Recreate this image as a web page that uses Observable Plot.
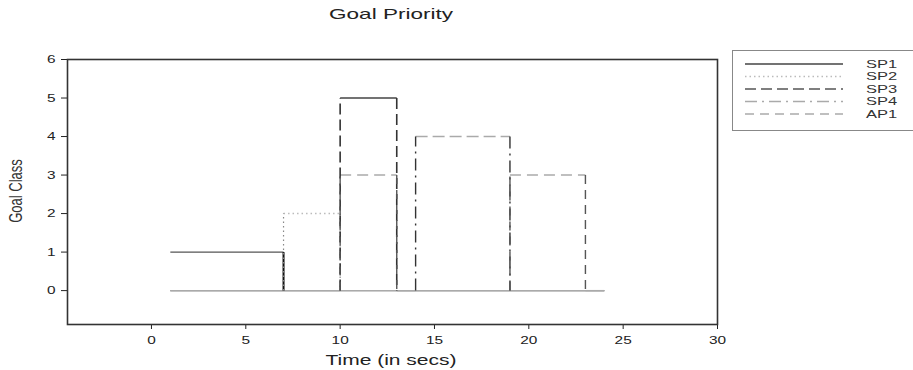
<!DOCTYPE html>
<html>
<head>
<meta charset="utf-8">
<script src="https://cdn.jsdelivr.net/npm/d3@7"></script>
<script src="https://cdn.jsdelivr.net/npm/@observablehq/plot@0.6"></script>
<style>
  body { margin: 0; background: #fff; font-family: "Liberation Sans", Arial, sans-serif; }
  #wrap { position: relative; width: 913px; height: 370px; overflow: hidden; }
  #title { position: absolute; top: 5px; left: 291px; width: 200px; text-align: center; font-size: 15px; line-height: 17px; color: #222; transform: scaleX(1.5); }
  #xlab { position: absolute; top: 352px; left: 291px; width: 200px; text-align: center; font-size: 14px; line-height: 16px; color: #222; transform: scaleX(1.5); }
  #ylab { position: absolute; left: 16px; top: 191px; transform: translate(-50%, -50%) rotate(-90deg) scaleY(1.4); font-size: 13px; line-height: 14px; color: #333; white-space: nowrap; }
  #legend { position: absolute; left: 732px; top: 50px; }
</style>
</head>
<body>
<div id="wrap">
  <div id="chart"></div>
  <div id="title">Goal Priority</div>
  <div id="xlab">Time (in secs)</div>
  <div id="ylab">Goal Class</div>
  <div id="legend"></div>
</div>
<script>
// Series names
const seriesNames = ["SP1", "SP2", "SP3", "SP4", "AP1"];
// Step-after breakpoints (time in secs) and goal class values for each series
const sp1Times = [1, 7, 24];
const sp1Values = [1, 0, 0];
const sp2Times = [1, 7, 10, 24];
const sp2Values = [0, 2, 0, 0];
const sp3Times = [1, 10, 13, 24];
const sp3Values = [0, 5, 0, 0];
const sp4Times = [1, 14, 19, 24];
const sp4Values = [0, 4, 0, 0];
const ap1Times = [1, 10, 13, 19, 23, 24];
const ap1Values = [0, 3, 0, 3, 0, 0];
// Tick labels
const xTicks = [0, 5, 10, 15, 20, 25, 30];
const yTicks = [0, 1, 2, 3, 4, 5, 6];

// Styles
const styles = {
  SP1: {h: "#555", v: "#111", dash: null, hDash: null, vWidth: 2, legend: "#444"},
  SP2: {h: "#bbb", v: "#888", dash: "1.5,3", hDash: "1.5,3", vWidth: 1.2, legend: "#bbb"},
  SP3: {h: "#444", v: "#333", dash: "11,5", hDash: null, vWidth: 1.6, legend: "#555"},
  SP4: {h: "#aaa", v: "#333", dash: "12,5,2,5", hDash: "12,5", vWidth: 1.4, legend: "#aaa"},
  AP1: {h: "#aaa", v: "#555", dash: "9,6", hDash: "11,6", vWidth: 1.4, legend: "#aaa"}
};

const seriesData = {
  SP1: [sp1Times, sp1Values],
  SP2: [sp2Times, sp2Values],
  SP3: [sp3Times, sp3Values],
  SP4: [sp4Times, sp4Values],
  AP1: [ap1Times, ap1Values]
};

// Build segments from step data
const baseline = [];
const marks = [];
for (const name of seriesNames) {
  const [t, v] = seriesData[name];
  const hs = [], vs = [];
  for (let i = 0; i < t.length - 1; i++) {
    const seg = {x1: t[i], y1: v[i], x2: t[i + 1], y2: v[i]};
    if (v[i] === 0) baseline.push(seg); else hs.push(seg);
    if (v[i + 1] !== v[i]) vs.push({x1: t[i + 1], y1: v[i], x2: t[i + 1], y2: v[i + 1]});
  }
  const s = styles[name];
  marks.push({name, hs, vs, s});
}

const plotMarks = [
  Plot.frame({stroke: "#333", strokeWidth: 1.6}),
  Plot.link(baseline, {x1: "x1", y1: "y1", x2: "x2", y2: "y2", stroke: "#aaa", strokeWidth: 1.3})
];
for (const m of marks) {
  plotMarks.push(Plot.link(m.hs, {x1: "x1", y1: "y1", x2: "x2", y2: "y2", stroke: m.s.h, strokeWidth: 1.4, strokeDasharray: m.s.hDash}));
}
for (const m of marks) {
  plotMarks.push(Plot.link(m.vs, {x1: "x1", y1: "y1", x2: "x2", y2: "y2", stroke: m.s.v, strokeWidth: m.s.vWidth, strokeDasharray: m.s.dash}));
}

const chart = Plot.plot({
  width: 913,
  height: 370,
  marginLeft: 67,
  marginRight: 196,
  marginTop: 59,
  marginBottom: 46,
  style: {fontFamily: "Liberation Sans, Arial, sans-serif", fontSize: "11px", color: "#222", background: "#fff"},
  x: {domain: [-4.45, 30], ticks: xTicks, tickFormat: d3.format("d"), tickSize: 5, tickPadding: 7, label: null},
  y: {domain: [-0.88, 6], ticks: yTicks, tickFormat: d3.format("d"), tickSize: 6, tickPadding: 6, label: null},
  marks: plotMarks
});
// Widen tick label glyphs horizontally, as in the reference
d3.select(chart).selectAll("text").each(function() {
  const t = this.getAttribute("transform") || "";
  this.setAttribute("transform", (t + " scale(1.4,1)").trim());
});
document.getElementById("chart").appendChild(chart);

// Legend
const lg = d3.select("#legend").append("svg").attr("width", 181).attr("height", 81)
  .style("font-family", "Liberation Sans, Arial, sans-serif").style("font-size", "11px");
lg.append("rect").attr("x", 0.5).attr("y", 0.5).attr("width", 190).attr("height", 80)
  .attr("fill", "#fff").attr("stroke", "#888");
seriesNames.forEach((name, i) => {
  const y = 14 + i * 12.5;
  lg.append("line").attr("x1", 13).attr("x2", 111).attr("y1", y).attr("y2", y)
    .attr("stroke", styles[name].legend).attr("stroke-width", 1.5)
    .attr("stroke-dasharray", styles[name].dash);
  lg.append("text").attr("x", 134 / 1.5).attr("y", y + 4).attr("fill", "#333")
    .attr("transform", "scale(1.5,1)").text(name);
});
</script>
</body>
</html>
